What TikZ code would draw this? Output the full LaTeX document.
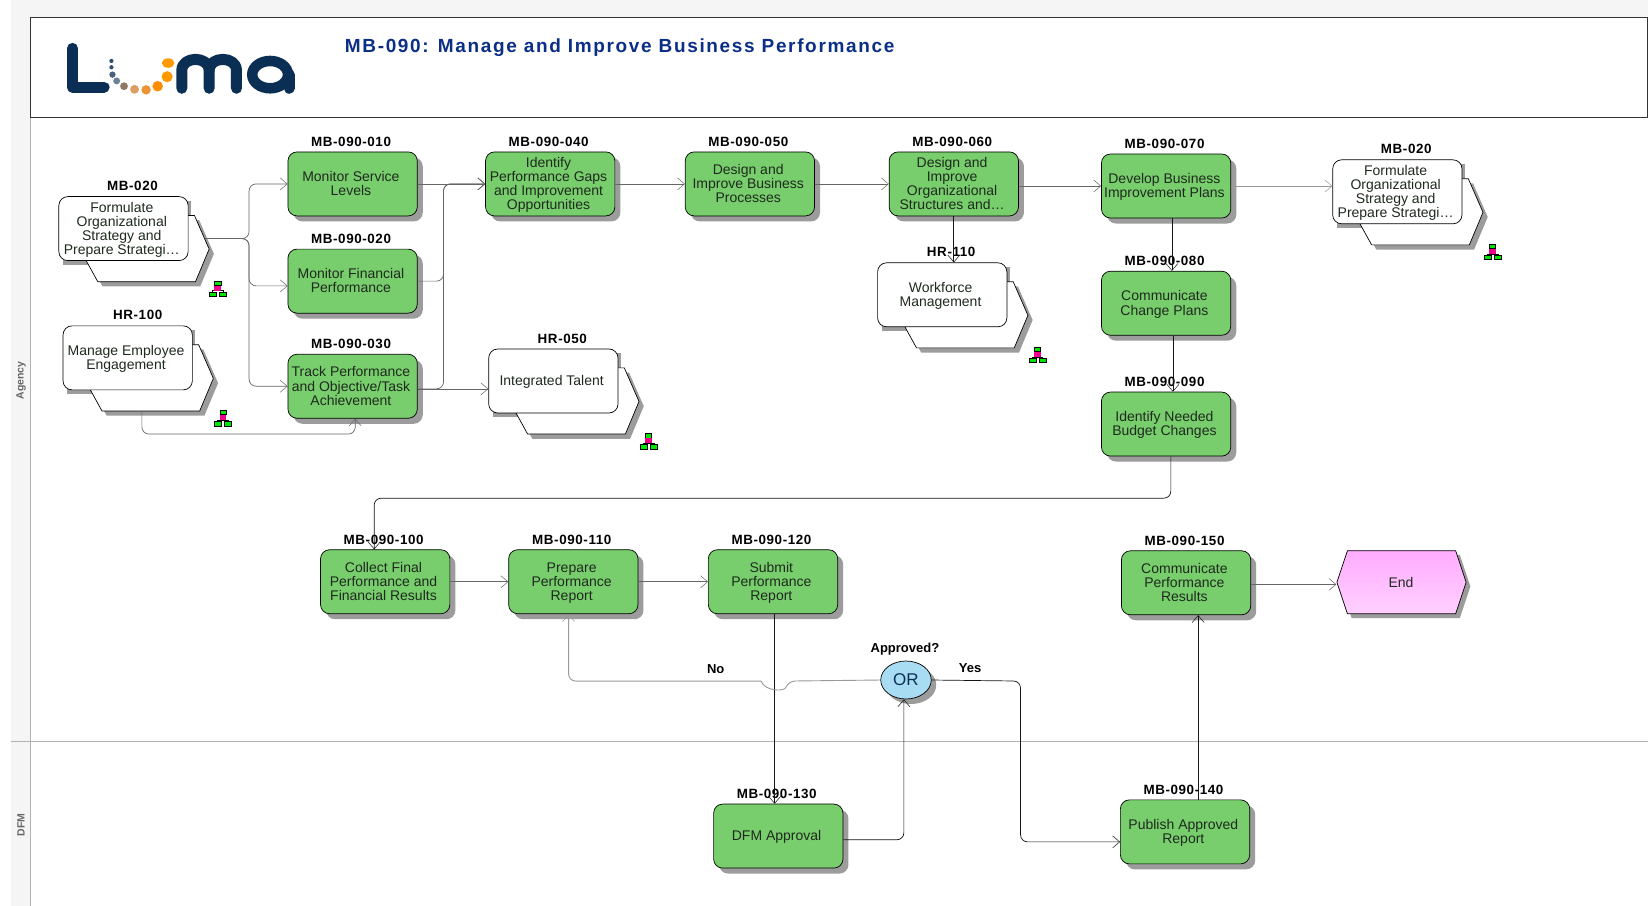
\documentclass[tikz,border=0pt]{standalone}
\usepackage{fontspec}
\setmainfont{Liberation Sans}
\usetikzlibrary{arrows.meta,shadows,shapes.geometric}
\definecolor{grn}{HTML}{78CE6C}
\definecolor{shd}{HTML}{9C9C9C}
\definecolor{navy}{HTML}{0B2E55}
\definecolor{ttl}{HTML}{0B2F86}
\definecolor{orb}{HTML}{A8DCF2}
\definecolor{txt}{HTML}{1E2A1E}
\definecolor{pinka}{HTML}{FFACFF}
\definecolor{pinkb}{HTML}{FFD0FF}
\newcommand{\tb}[1]{\vbox{\kern3.4pt\hbox{\kern-3.4pt\begin{tabular}{@{}c@{}}#1\end{tabular}}}}
\tikzset{
  actbox/.style={draw=black,line width=.7pt,fill=grn,rounded corners=9pt,minimum width=129.3pt,minimum height=64pt,inner sep=0pt,font=\fontsize{14}{13.4}\selectfont,text=txt,drop shadow={shadow xshift=5.5pt,shadow yshift=-5.5pt,opacity=1,fill=shd}},
  intbox/.style={draw=black,line width=.7pt,fill=white,rounded corners=9pt,minimum width=129.3pt,minimum height=64pt,inner sep=0pt,font=\fontsize{14}{13.4}\selectfont,text=txt},
  lab/.style={font=\bfseries\fontsize{13.4}{13}\selectfont\addfontfeature{LetterSpace=4.5},inner sep=0pt},
  labn/.style={font=\bfseries\fontsize{13}{13}\selectfont,inner sep=0pt},
  lanelab/.style={font=\bfseries\fontsize{10.5}{11}\selectfont,text=black!60,rotate=90,inner sep=0pt},
  conn/.style={draw=black!60,line width=.7pt,rounded corners=7pt,-{Straight Barb[length=7pt,width=12pt,line width=.5pt]}},
  connd/.style={conn,draw=black!92},
  connl/.style={conn,draw=black!40,line width=.9pt},
  backhex/.style={draw=black,line width=.7pt,fill=white},
  backshd/.style={fill=shd}
}
\newcommand{\act}[5]{%
  \node[lab] (l#1) at (#4-1.5,#5-40) {#2};
  \node[actbox] (#1) at (#4,#5) {\tb{#3}};}
\newcommand{\intf}[7]{%
  \begin{scope}[shift={(#4,#5)}]
  \fill[backshd,shift={(4.5,4.5)}] (123,18) -- (129,18) -- (143,50) -- (130,81) -- (37,81) -- (26,61) -- cycle;
  \fill[backshd] (4,4) rectangle (126,65);
  \draw[backhex] (123,18) -- (129,18) -- (143,50) -- (130,81) -- (37,81) -- (26,61) -- cycle;
  \end{scope}
  \node[intbox] (#1) at (#4+61.5,#5+30.5) {\tb{#3}};
  \node[lab] (l#1) at (#6,#7) {#2};}
\newcommand{\orgicon}[2]{%
  \begin{scope}[shift={(#1,#2)}]
  \draw[black,line width=.3pt] (-5,4) -- (-5,1.5) -- (5,1.5) -- (5,4);
  \draw[black,line width=.3pt,fill=green!90!black] (-3,-7.5) rectangle (3,-3.5);
  \fill[magenta] (-3,-3) rectangle (3,1.5);
  \draw[black,line width=.3pt,fill=green!90!black] (-8,3) rectangle (-1.5,7);
  \draw[black,line width=.3pt,fill=green!90!black] (1.5,3) rectangle (8,7);
  \end{scope}}
\begin{document}
\begin{tikzpicture}[x=1.051pt,y=-1.051pt]
\useasboundingbox (0,0) rectangle (1568,862);
\fill[white] (0,0) rectangle (1568,862);
\fill[black!4] (10,0) rectangle (1568,17);
\fill[black!4] (10,0) rectangle (29,862);
\draw[black!30,line width=.7pt] (29,112) -- (29,862);
\draw[black!30,line width=.7pt] (10,705.5) -- (1568,705.5);
\draw[black!80,line width=.8pt,fill=white] (29,17) rectangle (1567,112);
\node[lanelab] (laneA) at (20,362) {Agency};
\node[lanelab] (laneD) at (20,785) {DFM};
% logo
\draw[navy,line width=11pt,line cap=round,line join=round] (69,46) -- (69,83) -- (99,83);
\draw[navy,line width=11pt,line cap=round,line join=round] (173,84) -- (173,67) .. controls (173,53) and (199,53) .. (199,67) -- (199,84);
\draw[navy,line width=11pt,line cap=round,line join=round] (199,67) .. controls (199,53) and (225,53) .. (225,67) -- (225,84);
\draw[navy,line width=10.5pt] (257,71) ellipse (17 and 13);
\draw[navy,line width=11pt,line cap=round] (275,71) -- (275,84);
\fill[navy!85] (106,58) circle (2);
\fill[navy!85] (106,64) circle (2);
\fill[navy!75] (107,71) circle (3);
\fill[navy!60] (111,77) circle (3.3);
\fill[black!50!brown!70] (118,82) circle (3.7);
\fill[brown!75!orange!75] (128,85) circle (4.2);
\fill[orange!70!brown!85] (139,85.5) circle (4.5);
\fill[orange!90!yellow] (150,82) circle (5);
\fill[orange!80!yellow] (159,73) circle (5.3);
\fill[orange!80!yellow] (160,60) ellipse (6 and 4.5);
\node[anchor=west,inner sep=0pt,text=ttl,font=\bfseries\fontsize{19}{19}\selectfont\addfontfeature{LetterSpace=8.7}] (title) at (328,45) {MB-090: Manage and Improve Business Performance};
% interfaces
\intf{ifA}{MB-020}{Formulate\\Organizational\\Strategy and\\Prepare Strategi\dots}{56}{187}{126}{177}
\intf{ifB}{HR-100}{Manage Employee\\Engagement}{60}{310}{131}{300}
\intf{ifC}{HR-050}{Integrated Talent}{465}{332}{535}{322}
\intf{ifD}{HR-110}{Workforce\\Management}{835}{250}{905}{240}
\intf{ifE}{MB-020}{Formulate\\Organizational\\Strategy and\\Prepare Strategi\dots}{1268}{152}{1338}{142}
\orgicon{207}{275}\orgicon{212}{398}\orgicon{617}{420}\orgicon{987}{338}\orgicon{1420}{240}
% activities
\act{a10}{MB-090-010}{Monitor Service\\Levels}{335.5}{175}
\act{a20}{MB-090-020}{Monitor Financial\\Performance}{335.5}{267.5}
\act{a30}{MB-090-030}{Track Performance\\and Objective/Task\\Achievement}{335.5}{367.5}
\act{a40}{MB-090-040}{Identify\\Performance Gaps\\and Improvement\\Opportunities}{523.5}{175}
\act{a50}{MB-090-050}{Design and\\Improve Business\\Processes}{713.5}{175}
\act{a60}{MB-090-060}{Design and\\Improve\\Organizational\\Structures and\dots}{907.5}{175}
\act{a70}{MB-090-070}{Develop Business\\Improvement Plans}{1109.5}{177}
\act{a80}{MB-090-080}{Communicate\\Change Plans}{1109.5}{288.5}
\act{a90}{MB-090-090}{Identify Needed\\Budget Changes}{1109.5}{403.5}
\act{a100}{MB-090-100}{Collect Final\\Performance and\\Financial Results}{366.5}{553.5}
\act{a110}{MB-090-110}{Prepare\\Performance\\Report}{545.5}{553.5}
\act{a120}{MB-090-120}{Submit\\Performance\\Report}{735.5}{553.5}
\act{a130}{MB-090-130}{DFM Approval}{740.5}{795.5}
\act{a140}{MB-090-140}{Publish Approved\\Report}{1127.5}{791.5}
\act{a150}{MB-090-150}{Communicate\\Performance\\Results}{1128.5}{554.5}
% end
\fill[shd,shift={(4,4)}] (1272,554) -- (1282,524) -- (1385,524) -- (1395,554) -- (1385,584) -- (1282,584) -- cycle;
\shade[top color=pinka,bottom color=pinkb] (1272,554) -- (1282,524) -- (1385,524) -- (1395,554) -- (1385,584) -- (1282,584) -- cycle;
\draw[black,line width=.7pt] (1272,554) -- (1282,524) -- (1385,524) -- (1395,554) -- (1385,584) -- (1282,584) -- cycle;
\node[inner sep=0pt,minimum width=129pt,minimum height=60pt,font=\fontsize{14}{13.4}\selectfont,text=txt] (endn) at (1333,554) {End};
% OR
\node[ellipse,draw=black,line width=.7pt,fill=orb,minimum width=50.5pt,minimum height=38pt,inner sep=0pt,font=\fontsize{17}{18}\selectfont,text=navy,drop shadow={shadow xshift=5pt,shadow yshift=-5pt,opacity=1,fill=shd}] (orn) at (862,647) {OR};
\node[labn] (lor) at (861,618) {Approved?};
\node[labn] (lno) at (681,637) {No};
\node[labn] (lyes) at (923,636) {Yes};
% free points
\coordinate (ifAo) at (195,227);
\coordinate (ifBo) at (135,392);
\coordinate (fork) at (237,227);
\coordinate (merge) at (422,175);
% connectors
\draw[conn] (ifAo) -- (fork) |- (a10.west);
\draw[conn] (ifAo) -- (fork) |- (a20.west |- 0,272);
\draw[conn] (ifAo) -- (fork) |- (a30.west);
\draw[conn] (a10.east) -- (a40.west);
\draw[conn] (a20.east) -| (merge) -- (a40.west);
\draw[conn] (a30.east |- 0,370) -| (merge) -- (a40.west);
\draw[conn] (a30.east |- 0,370) -- (ifC.west |- 0,370);
\draw[conn] (ifBo) |- (338,413) -- (338,0 |- a30.south);
\draw[conn] (a40.east) -- (a50.west);
\draw[conn] (a50.east) -- (a60.west);
\draw[conn] (a60.east |- a70.west) -- (a70.west);
\draw[connl] (a70.east) -- (ifE.west |- a70.east);
\draw[connd] (a60.south) -- (ifD.north -| a60.south);
\draw[connd] (1115,0 |- a70.south) -- (1115,0 |- a80.north);
\draw[connd] (1116,0 |- a80.south) -- (1116,0 |- a90.north);
\draw[connd] (1114,0 |- a90.south) -- (1114,474) -| (356,0 |- a100.north);
\draw[conn] (a100.east) -- (a110.west);
\draw[conn] (a110.east) -- (a120.west);
\draw[connd] (737,0 |- a120.south) -- (737,0 |- a130.north);
\draw[connd] (a130.east |- 0,799) -- (860,799) -- (860,0 |- orn.south);
\draw[connl] (orn.west) -- (750,648) [sharp corners] .. controls (746,658) and (728,658) .. (724,648) [rounded corners=7pt] -| (541,0 |- a110.south);
\draw[connd] (orn.east) -- (971,648) |- (a140.west |- 0,801);
\draw[connd] (1140,0 |- a140.north) -- (1140,0 |- a150.south);
\draw[conn] (a150.east |- 0,556) -- (endn.west |- 0,556);
\end{tikzpicture}
\end{document}
